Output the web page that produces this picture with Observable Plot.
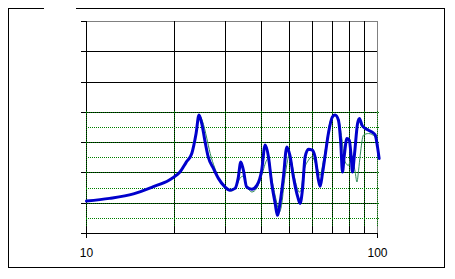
<!DOCTYPE html>
<html>
<head>
<meta charset="utf-8">
<script src="https://cdn.jsdelivr.net/npm/d3@7"></script>
<script src="https://cdn.jsdelivr.net/npm/@observablehq/plot@0.6"></script>
<style>
  html, body { margin: 0; padding: 0; background: white; }
  svg text { font-family: "Liberation Sans", Arial, sans-serif !important; }
  svg [aria-label="y-axis tick"] path, svg [aria-label="x-axis tick"] path { shape-rendering: crispEdges; }
</style>
</head>
<body>
<div id="chart"></div>
<script>
// Frequency (Hz) and level (grid units) of the thick blue curve
const freqBlue = [10, 12.0, 14.5, 16.9, 19.2, 20.0, 20.9, 22.0, 23.0, 23.8, 24.35, 24.9, 25.5, 26.2, 27.3, 28.4, 29.9, 31.1, 32.4, 33.2, 33.9, 34.6, 35.5, 37.0, 38.5, 40.0, 41.1, 42.2, 43.3, 44.5, 45.3, 46.3, 47.5, 48.8, 50.0, 51.4, 53.2, 54.2, 55.2, 56.4, 57.9, 59.7, 61.0, 62.7, 63.5, 64.7, 66.1, 67.8, 70.0, 71.5, 73.4, 74.8, 75.8, 76.8, 78.5, 80.0, 81.2, 82.0, 83.4, 85.4, 86.7, 88.4, 90.7, 93.1, 95.7, 98.2, 100, 101.3];
const levelBlue = [1.07, 1.16, 1.31, 1.54, 1.76, 1.87, 2.02, 2.35, 2.64, 3.30, 3.91, 3.63, 3.08, 2.53, 2.15, 1.82, 1.54, 1.43, 1.49, 1.82, 2.36, 2.09, 1.54, 1.46, 1.59, 2.09, 2.92, 2.53, 1.65, 0.99, 0.60, 1.04, 1.87, 2.86, 2.58, 1.87, 1.21, 0.99, 1.43, 2.53, 2.78, 2.75, 2.53, 1.76, 1.56, 1.98, 2.58, 3.30, 3.85, 3.91, 3.74, 2.97, 2.03, 2.53, 3.14, 3.08, 2.53, 2.03, 2.64, 3.63, 3.80, 3.58, 3.47, 3.41, 3.35, 3.25, 2.86, 2.48];

// Frequency (Hz) and level of the thin green curve
const freqGreen = [10, 12.0, 14.5, 16.9, 19.2, 20.0, 20.9, 22.0, 23.0, 23.8, 24.35, 25.03, 25.9, 26.6, 27.6, 28.7, 30.2, 31.4, 32.6, 33.7, 34.5, 35.6, 37.0, 38.5, 40.1, 41.6, 42.2, 43.4, 45.1, 45.9, 46.8, 47.9, 49.1, 49.7, 50.7, 52.1, 53.9, 54.6, 55.6, 57.9, 59.5, 61.9, 63.5, 65.2, 67.0, 68.7, 71.5, 73.4, 75.4, 77.4, 79.5, 81.5, 83.8, 85.0, 86.1, 87.2, 89.5, 93.1, 98.2, 100.3];
const levelGreen = [1.07, 1.16, 1.31, 1.54, 1.76, 1.87, 2.02, 2.35, 2.64, 3.30, 3.91, 3.71, 3.15, 2.65, 2.16, 1.76, 1.50, 1.40, 1.53, 1.83, 1.89, 1.56, 1.37, 1.50, 1.96, 2.42, 2.49, 1.76, 1.00, 0.70, 0.93, 1.76, 2.42, 2.63, 2.35, 1.76, 1.37, 1.43, 1.98, 2.42, 2.53, 2.20, 1.92, 2.42, 3.08, 3.68, 3.91, 3.80, 3.14, 2.36, 2.25, 2.58, 2.03, 1.70, 2.09, 2.58, 3.25, 3.30, 3.19, 2.92];

// Axis / grid values
const xTicks = [10, 100];
const xGridBlack = [20, 30, 40, 50, 60, 70, 80, 90];
const yTicks = [0, 1, 2, 3, 4, 5, 6, 7];
const yGridBlack = [1, 2, 3, 4, 5, 6];
const greenGridX = [10, 20, 30, 40, 50, 60, 70, 80, 90, 100];
const greenGridY = [0.5, 1, 1.5, 2, 2.5, 3, 3.5, 4];
const greenGridYRange = [0.22, 4.05];
const greenGridXRange = [10, 101.3];

const blue = freqBlue.map((f, i) => ({f, v: levelBlue[i]}));
const green = freqGreen.map((f, i) => ({f, v: levelGreen[i]}));

const crisp = {strokeWidth: 1, shapeRendering: "crispEdges"};

const svg = Plot.plot({
  width: 455,
  height: 279,
  marginLeft: 86,
  marginRight: 78,
  marginTop: 21,
  marginBottom: 46,
  style: {background: "white", fontSize: "12px", color: "black", overflow: "visible"},
  x: {type: "log", domain: [10, 100], label: null},
  y: {domain: [0, 7], label: null},
  marks: [
    Plot.ruleY(yGridBlack, {stroke: "black", ...crisp}),
    Plot.ruleY([7], {stroke: "#808080", ...crisp}),
    Plot.ruleX(xGridBlack, {stroke: "black", ...crisp}),
    Plot.ruleX([100], {stroke: "#808080", ...crisp}),
    Plot.ruleY([0], {stroke: "black", ...crisp}),
    Plot.ruleX([10], {stroke: "black", ...crisp}),
    Plot.ruleY(greenGridY, {x1: greenGridXRange[0], x2: greenGridXRange[1], stroke: "#008000", strokeDasharray: "1,1", strokeDashoffset: 0.5, ...crisp}),
    Plot.ruleX(greenGridX, {y1: greenGridYRange[0], y2: greenGridYRange[1], stroke: "#008000", strokeDasharray: "1,1", ...crisp}),
    Plot.axisY({ticks: yTicks, tickSize: 5, tickFormat: () => "", stroke: "black", label: null}),
    Plot.axisX({ticks: xTicks, tickSize: 5, tickPadding: 10, tickFormat: d => String(d), fontSize: 12, stroke: "black", fill: "black", label: null}),
    Plot.line(green, {x: "f", y: "v", stroke: "#2e8b57", strokeWidth: 1, curve: "monotone-x"}),
    Plot.line(blue, {x: "f", y: "v", stroke: "#0000cc", strokeWidth: 3, curve: "monotone-x"})
  ]
});

// Outer frame with a gap on the top edge
d3.select(svg).append("path")
  .attr("d", "M44,8.5H8.5V267.5H444.5V8.5H76")
  .attr("fill", "none")
  .attr("stroke", "black")
  .attr("stroke-width", 1)
  .attr("shape-rendering", "crispEdges");

document.getElementById("chart").appendChild(svg);
</script>
</body>
</html>
